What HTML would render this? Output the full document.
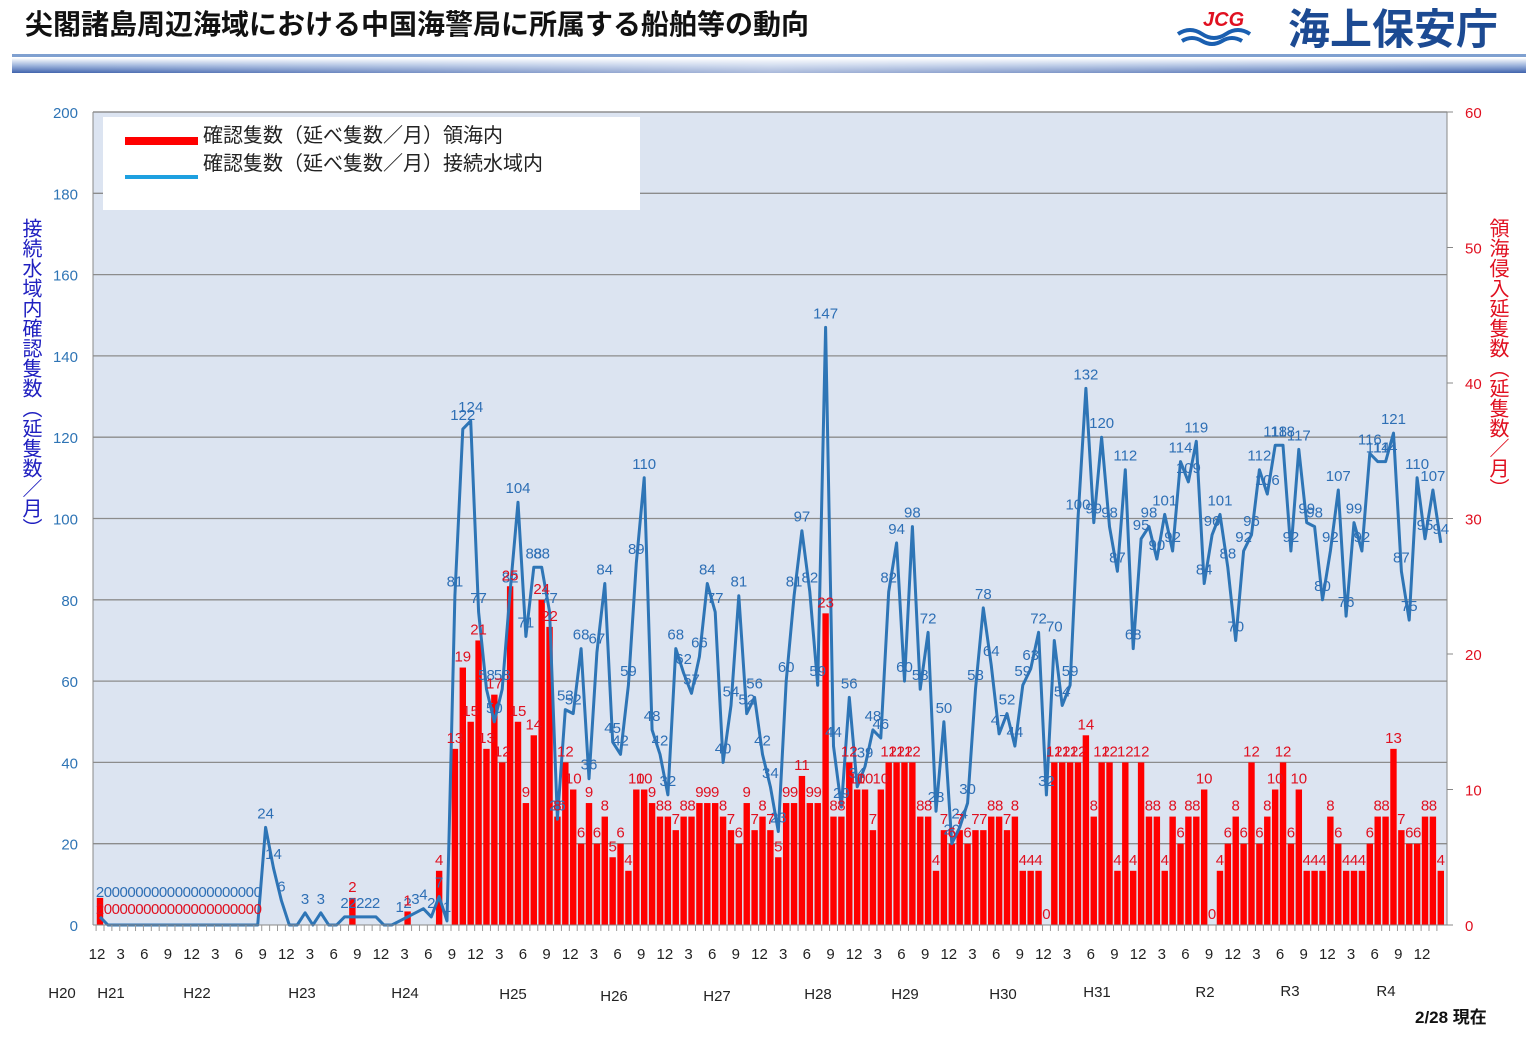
<!DOCTYPE html>
<html><head><meta charset="utf-8">
<style>
body{margin:0;background:#fff;width:1538px;height:1064px;overflow:hidden;font-family:"Liberation Sans","Noto Sans CJK JP",sans-serif;}
svg{position:absolute;left:0;top:0}
</style></head><body>
<svg id="s" width="1538" height="1064" xmlns="http://www.w3.org/2000/svg" font-family="Liberation Sans, Noto Sans CJK JP, sans-serif">
<defs>
<linearGradient id="band" x1="0" y1="0" x2="0" y2="1">
<stop offset="0" stop-color="#ffffff"/><stop offset="0.5" stop-color="#9db4dc"/><stop offset="1" stop-color="#3f62ac"/></linearGradient>
<linearGradient id="bandh" x1="0" y1="0" x2="1" y2="0">
<stop offset="0" stop-color="#fff" stop-opacity="0"/><stop offset="0.5" stop-color="#fff" stop-opacity="0.55"/><stop offset="1" stop-color="#fff" stop-opacity="0"/></linearGradient>
</defs>
<text x="25" y="34" font-size="28" font-weight="bold" fill="#111">尖閣諸島周辺海域における中国海警局に所属する船舶等の動向</text>
<text x="1203" y="26" font-size="20" font-weight="bold" font-style="italic" fill="#e01020">JCG</text>
<path d="M1178 34 q12 -8 24 0 t24 0 t24 0 M1182 41 q10 -6 20 0 t20 0 t20 0" stroke="#1a5fb0" stroke-width="4" fill="none"/>
<text x="1288" y="44" font-size="42" font-weight="bold" fill="#1c4a92">海上保安庁</text>
<rect x="12" y="54" width="1514" height="3" fill="#7fa0d0"/>
<rect x="12" y="58" width="1514" height="15" fill="url(#band)"/>
<rect x="12" y="58" width="1514" height="15" fill="url(#bandh)"/>
<rect x="93" y="112" width="1354" height="813" fill="#dce4f1"/>
<g id="grid"></g>
<rect x="103" y="117" width="537" height="93" fill="#fff"/>
<rect x="125" y="137" width="73" height="8" fill="#ff0000"/>
<rect x="125" y="175" width="73" height="4" fill="#1ea0e0"/>
<text x="203" y="142" font-size="20" fill="#222">確認隻数（延べ隻数／月）領海内</text>
<text x="203" y="170" font-size="20" fill="#222">確認隻数（延べ隻数／月）接続水域内</text>
<text x="30" y="218" font-size="20" fill="#2020c0" writing-mode="tb" style="writing-mode:vertical-rl" text-anchor="start">接続水域内確認隻数（延隻数／月）</text>
<text x="1497" y="218" font-size="20" fill="#e01020" style="writing-mode:vertical-rl" text-anchor="start">領海侵入延隻数（延隻数／月）</text>
<g id="bars"></g>
<g id="line"></g>
<g id="labs"></g>
<g id="xax"></g>
<text x="1415" y="1023" font-size="17" font-weight="bold" fill="#111">2/28 現在</text>
</svg>
<script>
var NS="http://www.w3.org/2000/svg";
function el(p,t,a,txt){var e=document.createElementNS(NS,t);for(var k in a)e.setAttribute(k,a[k]);if(txt!==undefined)e.textContent=txt;document.getElementById(p).appendChild(e);return e;}
var blue=[2,0,0,0,0,0,0,0,0,0,0,0,0,0,0,0,0,0,0,0,0,24,14,6,0,0,3,0,3,0,0,2,2,2,2,2,0,0,1,2,3,4,2,7,1,
81,122,124,77,58,50,58,82,104,71,88,88,77,26,53,52,68,36,67,84,45,42,59,89,110,48,42,32,68,62,57,66,84,77,40,54,81,52,56,42,34,
23,60,81,97,82,59,147,44,29,56,34,39,48,46,82,94,60,98,58,72,28,50,20,24,30,58,78,64,47,52,44,59,63,72,32,70,54,59,100,132,
99,120,98,87,112,68,95,98,90,101,92,114,109,119,84,96,101,88,70,92,96,112,106,118,118,92,117,99,98,80,92,107,76,99,92,116,114,114,121,87,75,110,95,107,94];
var red=[];for(var i=0;i<45;i++)red.push(0);red[0]=2;red[32]=2;red[39]=1;red[43]=4;
red=red.concat([13,19,15,21,13,17,12,25,15,9,14,24,22,8,12,10,6,9,6,8,5,6,4,10,10,9,8,8,7,8,8,9,9,9,8,7,6,9,7,8,7,
5,9,9,11,9,9,23,8,8,12,10,10,7,10,12,12,12,12,8,8,4,7,6,7,6,7,7,8,8,7,8,4,4,4,0,12,12,12,12,14,8,
12,12,4,12,4,12,8,8,4,8,6,8,8,10,0,4,6,8,6,12,6,8,10,12,6,10,4,4,4,8,6,4,4,4,6,8,8,13,7,6,6,8,8,4]);
function X(i){return 100+i*7.887;}
function YL(v){return 925-v*4.065;}
function YR(v){return 925-v*13.55;}
// grid
for(var g=0;g<=200;g+=20){var y=YL(g);if(g>0)el("grid","line",{x1:93,x2:1447,y1:y,y2:y,stroke:"#8c8c8c","stroke-width":1.3});
el("grid","text",{x:78,y:y+6,"font-size":15,fill:"#2e74b5","text-anchor":"end"},g);}
for(var r=0;r<=60;r+=10){el("grid","text",{x:1465,y:YR(r)+6,"font-size":15,fill:"#e01020"},r);
el("grid","line",{x1:1447,x2:1453,y1:YR(r),y2:YR(r),stroke:"#888"});}
el("grid","line",{x1:93,x2:93,y1:112,y2:925,stroke:"#888"});
el("grid","line",{x1:1447,x2:1447,y1:112,y2:925,stroke:"#888"});
el("grid","line",{x1:93,x2:1447,y1:112,y2:112,stroke:"#8c8c8c","stroke-width":1.3});
// bars
for(var i=0;i<red.length;i++){if(red[i]>0){var t=YR(red[i]);el("bars","rect",{x:X(i)-3.2,y:t,width:6.4,height:925-t,fill:"#ff0000"});}}
// line
var d="";for(var i=0;i<blue.length;i++){d+=(i?"L":"M")+X(i).toFixed(1)+" "+YL(blue[i]).toFixed(1);}
el("line","path",{d:d,fill:"none",stroke:"#2e75b6","stroke-width":3,"stroke-linejoin":"round"});
// labels
for(var i=0;i<blue.length;i++){
 if(i>=45){el("labs","text",{x:X(i),y:YL(blue[i])-9,"font-size":15,fill:"#2e6fb5","text-anchor":"middle"},blue[i]);}
 else if(i<=20){el("labs","text",{x:X(i),y:897,"font-size":15,fill:"#2e6fb5","text-anchor":"middle"},blue[i]);}
 else if(blue[i]>0){el("labs","text",{x:X(i),y:YL(blue[i])-9,"font-size":15,fill:"#2e6fb5","text-anchor":"middle"},blue[i]);}
}
for(var i=0;i<red.length;i++){
 if(i>=45){el("labs","text",{x:X(i),y:YR(red[i])-6,"font-size":15,fill:"#e01020","text-anchor":"middle"},red[i]);}
 else if(i<=20){el("labs","text",{x:X(i),y:914,"font-size":15,fill:"#e01020","text-anchor":"middle"},red[i]);}
 else if(red[i]>0){el("labs","text",{x:X(i),y:YR(red[i])-6,"font-size":15,fill:"#e01020","text-anchor":"middle"},red[i]);}
}
// x axis
el("xax","line",{x1:93,x2:1447,y1:925,y2:925,stroke:"#888"});
var ml=[12,3,6,9];
for(var i=0;i<=170;i++){var x=X(i)-3.9;el("xax","line",{x1:x,x2:x,y1:925,y2:931,stroke:"#999"});}
for(var k=0;k*3<=168;k++){el("xax","text",{x:97+k*3*7.887,y:959,"font-size":15,fill:"#222","text-anchor":"middle"},ml[k%4]);}
var yrs=[["H20",62,998],["H21",111,998],["H22",197,998],["H23",302,998],["H24",405,998],["H25",513,999],["H26",614,1001],["H27",717,1001],["H28",818,999],["H29",905,999],["H30",1003,999],["H31",1097,997],["R2",1205,997],["R3",1290,996],["R4",1386,996]];
yrs.forEach(function(a){el("xax","text",{x:a[1],y:a[2],"font-size":15,fill:"#222","text-anchor":"middle"},a[0]);});
</script>
</body></html>
